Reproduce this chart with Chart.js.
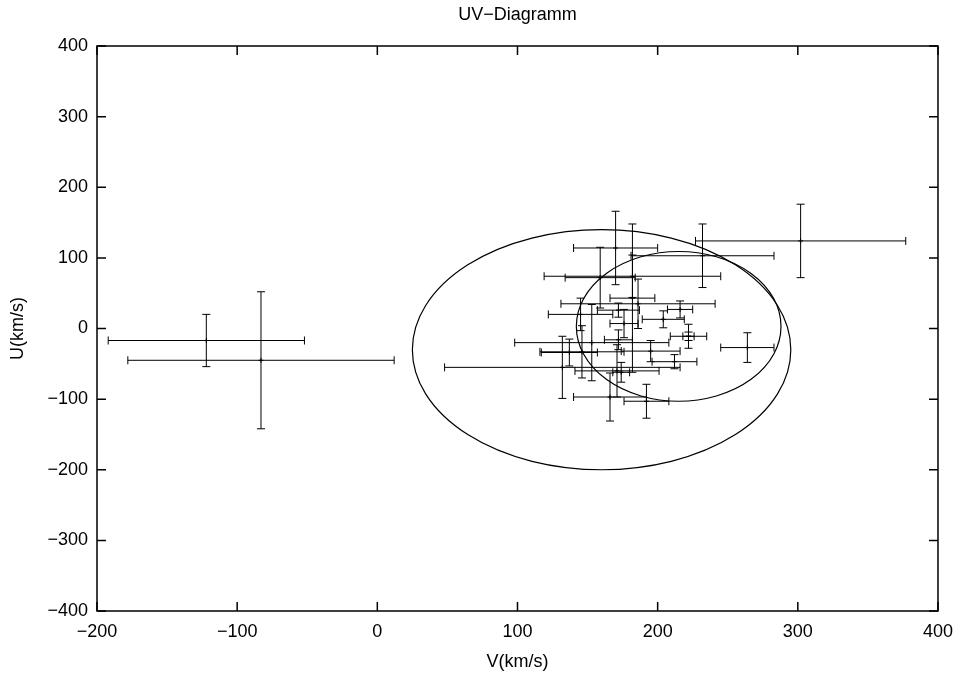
<!DOCTYPE html>
<html>
<head>
<meta charset="utf-8">
<title>UV-Diagramm</title>
<script src="https://cdn.jsdelivr.net/npm/chart.js@4.4.0/dist/chart.umd.min.js"></script>
<style>
    html, body { margin: 0; padding: 0; background: #fff; }
</style>
</head>
<body>
<canvas id="uvChart" width="963" height="677"></canvas>
<script>
const vValues = [-122, -83, 302, 232, 170, 182, 159, 182, 186, 216, 204, 222, 222, 264,
                 153, 146, 132, 166, 192, 212, 172, 145, 172, 176, 195, 171, 174, 137];
const uValues = [-17, -45, 124, 103, 114, 74, 72, 43, 35, 27, 13, -11, -11, -27,
                 -20, -33, -55, -97, -103, -47, -16, 20, 26, 7, -32, -60, -62, -34];
const vErrors = [70, 95, 75, 51, 30, 63, 25, 16, 55, 9, 15, 13, 4, 19,
                 55, 30, 84, 26, 16, 16, 10, 23, 15, 10, 21, 30, 6, 20];
const uErrors = [37, 97, 52, 45, 52, 30, 43, 105, 35, 12, 12, 17, 6, 21,
                 54, 37, 44, 34, 24, 10, 14, 23, 10, 20, 15, 37, 14, 19];

// Ellipsen: Mittelpunkt und Halbachsen
const ellipseCenterV = [160, 215];
const ellipseCenterU = [-30, 3];
const ellipseRadiusV = [135, 73];
const ellipseRadiusU = [170, 106];

const xTicks = [-200, -100, 0, 100, 200, 300, 400];
const yTicks = [-400, -300, -200, -100, 0, 100, 200, 300, 400];

const chartTitle = 'UV\u2212Diagramm';

const FONT = 'Liberation Sans, Arial, Helvetica, sans-serif';

function minus(v) {
    return String(v).replace('-', '\u2212');
}

const ellipsePlugin = {
    id: 'ellipses',
    beforeDatasetsDraw(chart) {
        const { ctx, scales: { x, y } } = chart;
        ctx.save();
        ctx.strokeStyle = '#000';
        ctx.lineWidth = 1.2;
        ellipseCenterV.forEach((cv, i) => {
            const cx = x.getPixelForValue(cv);
            const cy = y.getPixelForValue(ellipseCenterU[i]);
            const rx = Math.abs(x.getPixelForValue(cv + ellipseRadiusV[i]) - cx);
            const ry = Math.abs(y.getPixelForValue(ellipseCenterU[i] + ellipseRadiusU[i]) - cy);
            ctx.beginPath();
            ctx.ellipse(cx, cy, rx, ry, 0, 0, Math.PI * 2);
            ctx.stroke();
        });
        ctx.restore();
    }
};

const errorBarPlugin = {
    id: 'errorBars',
    beforeDatasetsDraw(chart) {
        const { ctx, scales: { x, y } } = chart;
        const cap = 4;
        ctx.save();
        ctx.strokeStyle = '#000';
        ctx.lineWidth = 1;
        vValues.forEach((v, i) => {
            const u = uValues[i];
            const px = x.getPixelForValue(v);
            const py = y.getPixelForValue(u);
            const x0 = x.getPixelForValue(v - vErrors[i]);
            const x1 = x.getPixelForValue(v + vErrors[i]);
            const y0 = y.getPixelForValue(u - uErrors[i]);
            const y1 = y.getPixelForValue(u + uErrors[i]);
            ctx.beginPath();
            ctx.moveTo(x0, py); ctx.lineTo(x1, py);
            ctx.moveTo(x0, py - cap); ctx.lineTo(x0, py + cap);
            ctx.moveTo(x1, py - cap); ctx.lineTo(x1, py + cap);
            ctx.moveTo(px, y0); ctx.lineTo(px, y1);
            ctx.moveTo(px - cap, y0); ctx.lineTo(px + cap, y0);
            ctx.moveTo(px - cap, y1); ctx.lineTo(px + cap, y1);
            ctx.stroke();
        });
        ctx.restore();
    }
};

// Rahmen mit nach innen zeigenden Ticks (gnuplot-Stil), Titel über der Zeichenfläche zentriert
const framePlugin = {
    id: 'frame',
    afterDraw(chart) {
        const { ctx, chartArea: a, scales: { x, y } } = chart;
        const len = 9;
        ctx.save();
        ctx.strokeStyle = '#000';
        ctx.lineWidth = 1.5;
        ctx.strokeRect(a.left, a.top, a.right - a.left, a.bottom - a.top);
        ctx.beginPath();
        xTicks.forEach(t => {
            const px = x.getPixelForValue(t);
            ctx.moveTo(px, a.bottom); ctx.lineTo(px, a.bottom - len);
            ctx.moveTo(px, a.top); ctx.lineTo(px, a.top + len);
        });
        yTicks.forEach(t => {
            const py = y.getPixelForValue(t);
            ctx.moveTo(a.left, py); ctx.lineTo(a.left + len, py);
            ctx.moveTo(a.right, py); ctx.lineTo(a.right - len, py);
        });
        ctx.stroke();

        ctx.fillStyle = '#000';
        ctx.font = '18px ' + FONT;
        ctx.textAlign = 'center';
        ctx.textBaseline = 'middle';
        ctx.fillText(chartTitle, (a.left + a.right) / 2, 15);
        ctx.restore();
    }
};

const points = vValues.map((v, i) => ({ x: v, y: uValues[i] }));

new Chart(document.getElementById('uvChart').getContext('2d'), {
    type: 'scatter',
    data: {
        datasets: [{
            data: points,
            pointStyle: 'cross',
            pointRadius: 2.5,
            borderColor: '#000',
            backgroundColor: '#000',
            borderWidth: 1
        }]
    },
    options: {
        responsive: false,
        animation: false,
        layout: { padding: { left: 0, right: 24, top: 46, bottom: 0 } },
        plugins: {
            legend: { display: false },
            tooltip: { enabled: false },
            title: { display: false }
        },
        scales: {
            x: {
                type: 'linear',
                min: -200,
                max: 400,
                afterBuildTicks: s => { s.ticks = xTicks.map(v => ({ value: v })); },
                afterFit: s => { s.height = 66; },
                grid: { display: false, drawTicks: false },
                border: { display: false },
                ticks: {
                    color: '#000',
                    padding: 10,
                    maxRotation: 0,
                    font: { family: FONT, size: 18 },
                    callback: v => minus(v)
                },
                title: {
                    display: true,
                    text: 'V(km/s)',
                    color: '#000',
                    font: { family: FONT, size: 18 },
                    padding: { top: 0, bottom: 4 }
                }
            },
            y: {
                type: 'linear',
                min: -400,
                max: 400,
                afterBuildTicks: s => { s.ticks = yTicks.map(v => ({ value: v })); },
                afterFit: s => { s.width = 97; },
                grid: { display: false, drawTicks: false },
                border: { display: false },
                ticks: {
                    color: '#000',
                    padding: 9,
                    font: { family: FONT, size: 18 },
                    callback: v => minus(v)
                },
                title: {
                    display: true,
                    text: 'U(km/s)',
                    color: '#000',
                    font: { family: FONT, size: 18 },
                    padding: { top: 7, bottom: 0 }
                }
            }
        }
    },
    plugins: [ellipsePlugin, errorBarPlugin, framePlugin]
});
</script>
</body>
</html>
